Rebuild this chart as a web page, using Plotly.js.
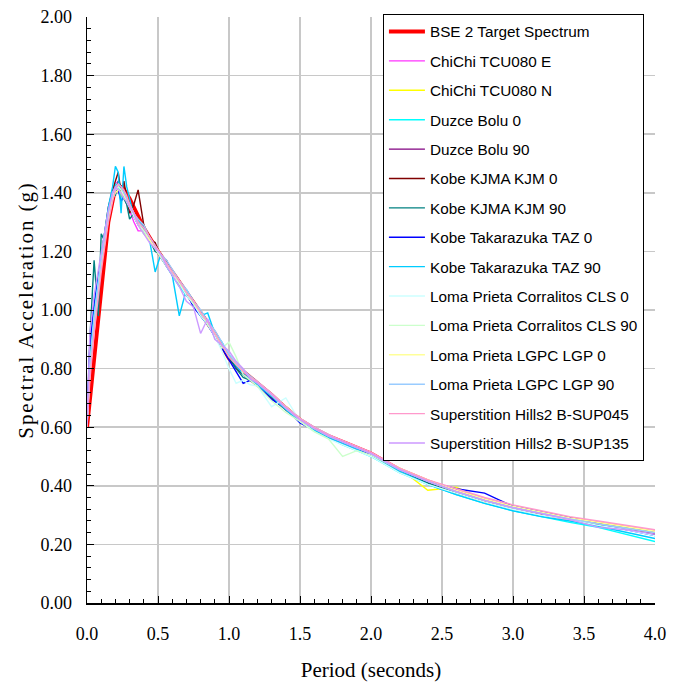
<!DOCTYPE html>
<html><head><meta charset="utf-8">
<script src="https://cdn.plot.ly/plotly-3.0.1.min.js"></script>
<style>body{margin:0;background:#fff;} .ytitle{letter-spacing:1.9px;}</style>
</head><body><div id="chart" style="width:681px;height:684px;"></div>
<script>
const targetPeriod = [0, 0.05, 0.1, 0.15, 0.2, 0.25, 0.3, 0.35, 0.4, 0.5, 0.6, 0.7, 0.8, 0.9, 1.0, 1.1, 1.2, 1.3, 1.4, 1.5, 1.6, 1.7, 1.8, 1.9, 2.0, 2.2, 2.4, 2.6, 2.8, 3.0, 3.2, 3.4, 3.6, 3.8, 4.0];
const targetSa = [0.60, 0.83, 1.06, 1.30, 1.42, 1.42, 1.38, 1.33, 1.28, 1.20, 1.13, 1.06, 0.99, 0.92, 0.835, 0.79, 0.75, 0.71, 0.665, 0.625, 0.595, 0.57, 0.55, 0.53, 0.51, 0.455, 0.415, 0.38, 0.35, 0.325, 0.305, 0.287, 0.27, 0.255, 0.24];

const recordPeriod = [0, 0.02, 0.05, 0.08, 0.1, 0.12, 0.15, 0.18, 0.2, 0.22, 0.24, 0.26, 0.28, 0.3, 0.33, 0.36, 0.4, 0.44, 0.48, 0.52, 0.56, 0.6, 0.65, 0.7, 0.75, 0.8, 0.85, 0.9, 0.95, 1.0, 1.05, 1.1, 1.15, 1.2, 1.3, 1.4, 1.5, 1.6, 1.7, 1.8, 1.9, 2.0, 2.2, 2.4, 2.6, 2.8, 3.0, 3.2, 3.4, 3.6, 3.8, 4.0];

const chichiE = [0.61, 0.82, 0.97, 1.10, 1.17, 1.23, 1.33, 1.40, 1.43, 1.44, 1.42, 1.39, 1.36, 1.34, 1.30, 1.27, 1.27, 1.24, 1.21, 1.18, 1.15, 1.12, 1.10, 1.05, 1.02, 0.98, 0.95, 0.91, 0.87, 0.84, 0.81, 0.78, 0.76, 0.745, 0.705, 0.665, 0.625, 0.595, 0.57, 0.55, 0.53, 0.51, 0.455, 0.415, 0.385, 0.355, 0.33, 0.31, 0.29, 0.275, 0.26, 0.245];
const chichiN = [0.61, 0.78, 0.95, 1.08, 1.15, 1.21, 1.31, 1.38, 1.40, 1.41, 1.39, 1.38, 1.37, 1.36, 1.33, 1.30, 1.27, 1.24, 1.22, 1.19, 1.16, 1.13, 1.09, 1.06, 1.02, 0.99, 0.96, 0.92, 0.88, 0.845, 0.815, 0.79, 0.77, 0.75, 0.71, 0.67, 0.63, 0.595, 0.57, 0.545, 0.525, 0.505, 0.46, 0.385, 0.395, 0.35, 0.33, 0.305, 0.29, 0.275, 0.26, 0.245];
const duzce0 = [0.62, 0.85, 1.00, 1.12, 1.19, 1.25, 1.34, 1.40, 1.43, 1.42, 1.40, 1.39, 1.37, 1.35, 1.32, 1.29, 1.26, 1.24, 1.21, 1.18, 1.15, 1.12, 1.08, 1.05, 1.02, 0.98, 0.95, 0.91, 0.88, 0.84, 0.81, 0.785, 0.765, 0.745, 0.70, 0.66, 0.62, 0.59, 0.565, 0.54, 0.52, 0.50, 0.445, 0.405, 0.37, 0.34, 0.315, 0.295, 0.275, 0.258, 0.235, 0.21];
const duzce90 = [0.61, 0.80, 0.96, 1.09, 1.16, 1.22, 1.32, 1.39, 1.42, 1.43, 1.41, 1.40, 1.38, 1.35, 1.32, 1.29, 1.28, 1.25, 1.21, 1.19, 1.16, 1.13, 1.09, 1.06, 1.02, 0.99, 0.955, 0.92, 0.88, 0.84, 0.81, 0.785, 0.765, 0.75, 0.71, 0.665, 0.625, 0.595, 0.57, 0.55, 0.53, 0.51, 0.455, 0.415, 0.38, 0.35, 0.325, 0.305, 0.287, 0.27, 0.253, 0.235];
const kobeKjm0 = [0.61, 0.83, 0.99, 1.12, 1.18, 1.25, 1.35, 1.41, 1.44, 1.47, 1.40, 1.44, 1.38, 1.33, 1.36, 1.41, 1.29, 1.24, 1.23, 1.18, 1.17, 1.12, 1.10, 1.05, 1.03, 0.98, 0.96, 0.91, 0.88, 0.84, 0.80, 0.78, 0.76, 0.74, 0.70, 0.66, 0.625, 0.595, 0.57, 0.55, 0.53, 0.505, 0.45, 0.41, 0.375, 0.35, 0.325, 0.305, 0.29, 0.27, 0.255, 0.24];
const kobeKjm90 = [0.62, 0.90, 1.17, 0.98, 1.26, 1.24, 1.30, 1.40, 1.39, 1.44, 1.42, 1.38, 1.36, 1.31, 1.33, 1.30, 1.27, 1.24, 1.20, 1.19, 1.15, 1.12, 1.09, 1.06, 1.02, 0.98, 0.955, 0.92, 0.87, 0.84, 0.80, 0.77, 0.76, 0.745, 0.705, 0.665, 0.625, 0.595, 0.565, 0.545, 0.525, 0.505, 0.45, 0.41, 0.375, 0.35, 0.325, 0.305, 0.287, 0.27, 0.255, 0.24];
const kobeTaz0 = [0.61, 0.88, 1.02, 1.12, 1.18, 1.24, 1.33, 1.39, 1.42, 1.41, 1.37, 1.39, 1.38, 1.36, 1.33, 1.30, 1.27, 1.24, 1.22, 1.18, 1.16, 1.12, 1.09, 1.06, 1.01, 0.98, 0.95, 0.91, 0.87, 0.83, 0.79, 0.75, 0.76, 0.745, 0.695, 0.665, 0.615, 0.59, 0.565, 0.545, 0.525, 0.505, 0.455, 0.415, 0.39, 0.375, 0.33, 0.31, 0.29, 0.27, 0.25, 0.23];
const kobeTaz90 = [0.61, 0.82, 0.99, 1.11, 1.18, 1.25, 1.35, 1.42, 1.49, 1.47, 1.33, 1.49, 1.42, 1.38, 1.32, 1.31, 1.28, 1.24, 1.13, 1.19, 1.16, 1.12, 0.98, 1.07, 1.03, 0.98, 0.99, 0.92, 0.89, 0.845, 0.81, 0.78, 0.765, 0.745, 0.705, 0.66, 0.62, 0.59, 0.565, 0.545, 0.525, 0.50, 0.45, 0.405, 0.37, 0.34, 0.315, 0.295, 0.28, 0.262, 0.24, 0.22];
const lomaCls0 = [0.62, 0.80, 0.97, 1.10, 1.17, 1.24, 1.33, 1.39, 1.41, 1.42, 1.41, 1.39, 1.37, 1.35, 1.32, 1.29, 1.27, 1.24, 1.21, 1.18, 1.15, 1.12, 1.09, 1.05, 1.02, 0.98, 0.95, 0.91, 0.86, 0.80, 0.75, 0.76, 0.745, 0.74, 0.67, 0.70, 0.62, 0.585, 0.56, 0.54, 0.52, 0.50, 0.445, 0.405, 0.375, 0.345, 0.32, 0.30, 0.285, 0.265, 0.25, 0.23];
const lomaCls90 = [0.61, 0.79, 0.96, 1.09, 1.16, 1.22, 1.32, 1.38, 1.41, 1.42, 1.41, 1.40, 1.38, 1.36, 1.33, 1.30, 1.27, 1.24, 1.21, 1.18, 1.16, 1.13, 1.09, 1.06, 1.02, 0.99, 0.95, 0.92, 0.87, 0.89, 0.84, 0.78, 0.76, 0.74, 0.69, 0.65, 0.62, 0.585, 0.56, 0.50, 0.52, 0.505, 0.455, 0.415, 0.38, 0.35, 0.325, 0.305, 0.287, 0.27, 0.255, 0.24];
const lomaLgp0 = [0.60, 0.78, 0.95, 1.08, 1.15, 1.22, 1.31, 1.38, 1.40, 1.41, 1.40, 1.39, 1.37, 1.35, 1.33, 1.29, 1.26, 1.24, 1.21, 1.19, 1.15, 1.13, 1.10, 1.06, 1.03, 0.99, 0.96, 0.92, 0.88, 0.84, 0.815, 0.79, 0.77, 0.75, 0.71, 0.665, 0.625, 0.595, 0.57, 0.55, 0.53, 0.51, 0.46, 0.42, 0.385, 0.355, 0.33, 0.31, 0.29, 0.275, 0.26, 0.245];
const lomaLgp90 = [0.61, 0.81, 0.97, 1.10, 1.17, 1.23, 1.33, 1.40, 1.42, 1.43, 1.42, 1.40, 1.38, 1.36, 1.33, 1.31, 1.29, 1.25, 1.22, 1.19, 1.17, 1.14, 1.10, 1.07, 1.03, 1.00, 0.96, 0.93, 0.89, 0.85, 0.82, 0.795, 0.775, 0.755, 0.715, 0.67, 0.63, 0.60, 0.575, 0.55, 0.53, 0.51, 0.455, 0.415, 0.38, 0.35, 0.325, 0.305, 0.287, 0.27, 0.255, 0.24];
const superSup045 = [0.60, 0.76, 0.92, 1.06, 1.13, 1.20, 1.30, 1.37, 1.41, 1.43, 1.42, 1.41, 1.39, 1.36, 1.33, 1.30, 1.28, 1.25, 1.22, 1.19, 1.16, 1.13, 1.10, 1.06, 1.03, 0.99, 0.96, 0.92, 0.88, 0.84, 0.815, 0.79, 0.77, 0.755, 0.715, 0.67, 0.63, 0.60, 0.575, 0.555, 0.535, 0.515, 0.46, 0.42, 0.39, 0.36, 0.335, 0.315, 0.295, 0.28, 0.265, 0.25];
const superSup135 = [0.61, 0.92, 1.05, 1.14, 1.20, 1.26, 1.34, 1.40, 1.42, 1.41, 1.40, 1.38, 1.37, 1.35, 1.33, 1.29, 1.26, 1.23, 1.21, 1.19, 1.15, 1.12, 1.08, 1.03, 1.01, 0.92, 0.97, 0.90, 0.88, 0.86, 0.825, 0.80, 0.765, 0.75, 0.71, 0.665, 0.625, 0.595, 0.57, 0.55, 0.53, 0.51, 0.455, 0.415, 0.38, 0.35, 0.325, 0.305, 0.285, 0.258, 0.25, 0.235];

const seriesNames = ['ChiChi TCU080 E', 'ChiChi TCU080 N', 'Duzce Bolu 0', 'Duzce Bolu 90', 'Kobe KJMA KJM 0', 'Kobe KJMA KJM 90', 'Kobe Takarazuka TAZ 0', 'Kobe Takarazuka TAZ 90', 'Loma Prieta Corralitos CLS 0', 'Loma Prieta Corralitos CLS 90', 'Loma Prieta LGPC LGP 0', 'Loma Prieta LGPC LGP 90', 'Superstition Hills2 B-SUP045', 'Superstition Hills2 B-SUP135'];
const seriesValues = [chichiE, chichiN, duzce0, duzce90, kobeKjm0, kobeKjm90, kobeTaz0, kobeTaz90, lomaCls0, lomaCls90, lomaLgp0, lomaLgp90, superSup045, superSup135];
const seriesColors = ['#FF33FF', '#FFFF00', '#00FFFF', '#800080', '#800000', '#008080', '#0000FF', '#00CCFF', '#CCFFFF', '#CCFFCC', '#FFFF99', '#99CCFF', '#FF99CC', '#CC99FF'];

const traces = [{
  x: targetPeriod, y: targetSa, mode: 'lines', name: 'BSE 2 Target Spectrum',
  line: {color: '#FF0000', width: 4}, legendgroup: 'g0'
}];
seriesNames.forEach((n, i) => {
  traces.push({x: recordPeriod, y: seriesValues[i], mode: 'lines', name: n,
    line: {color: seriesColors[i], width: 1.4}, legendgroup: 'g' + (i + 1)});
});

const serif = '"Liberation Serif", "Times New Roman", serif';
const axisCommon = {
  showgrid: true, gridcolor: '#c8c8c8', gridwidth: 1.5,
  showline: true, linecolor: '#000', linewidth: 1.5, mirror: false,
  ticks: 'inside', ticklen: 7, tickcolor: '#000', tickwidth: 1,
  zeroline: false, tickfont: {family: serif, size: 18, color: '#000'}
};
const layout = {
  width: 681, height: 684,
  margin: {l: 87, r: 26, t: 17, b: 81},
  paper_bgcolor: '#fff', plot_bgcolor: '#fff',
  showlegend: true,
  legend: {x: 0.521, y: 1.005, xanchor: 'left', yanchor: 'top', bgcolor: '#fff',
    bordercolor: '#000', borderwidth: 1, tracegroupgap: 6.5, itemwidth: 36, maxheight: 600,
    font: {family: '"Liberation Sans", Arial, sans-serif', size: 15.3, color: '#000'}},
  xaxis: Object.assign({}, axisCommon, {
    range: [0, 4], tick0: 0, dtick: 0.5, tickformat: '.1f', ticklabelstandoff: 14,
    minor: {dtick: 0.1, ticks: 'inside', ticklen: 4, tickcolor: '#000', showgrid: false},
    title: {text: 'Period (seconds)', font: {family: serif, size: 21, color: '#000'}}
  }),
  yaxis: Object.assign({}, axisCommon, {
    range: [0, 2], tick0: 0, dtick: 0.2, tickformat: '.2f', ticklabelstandoff: 10,
    minor: {dtick: 0.04, ticks: 'inside', ticklen: 4, tickcolor: '#000', showgrid: false},
    title: {text: 'Spectral Acceleration (g)', font: {family: serif, size: 21, color: '#000'}}
  })
};
Plotly.newPlot('chart', traces, layout, {displayModeBar: false, staticPlot: true});
</script></body></html>
